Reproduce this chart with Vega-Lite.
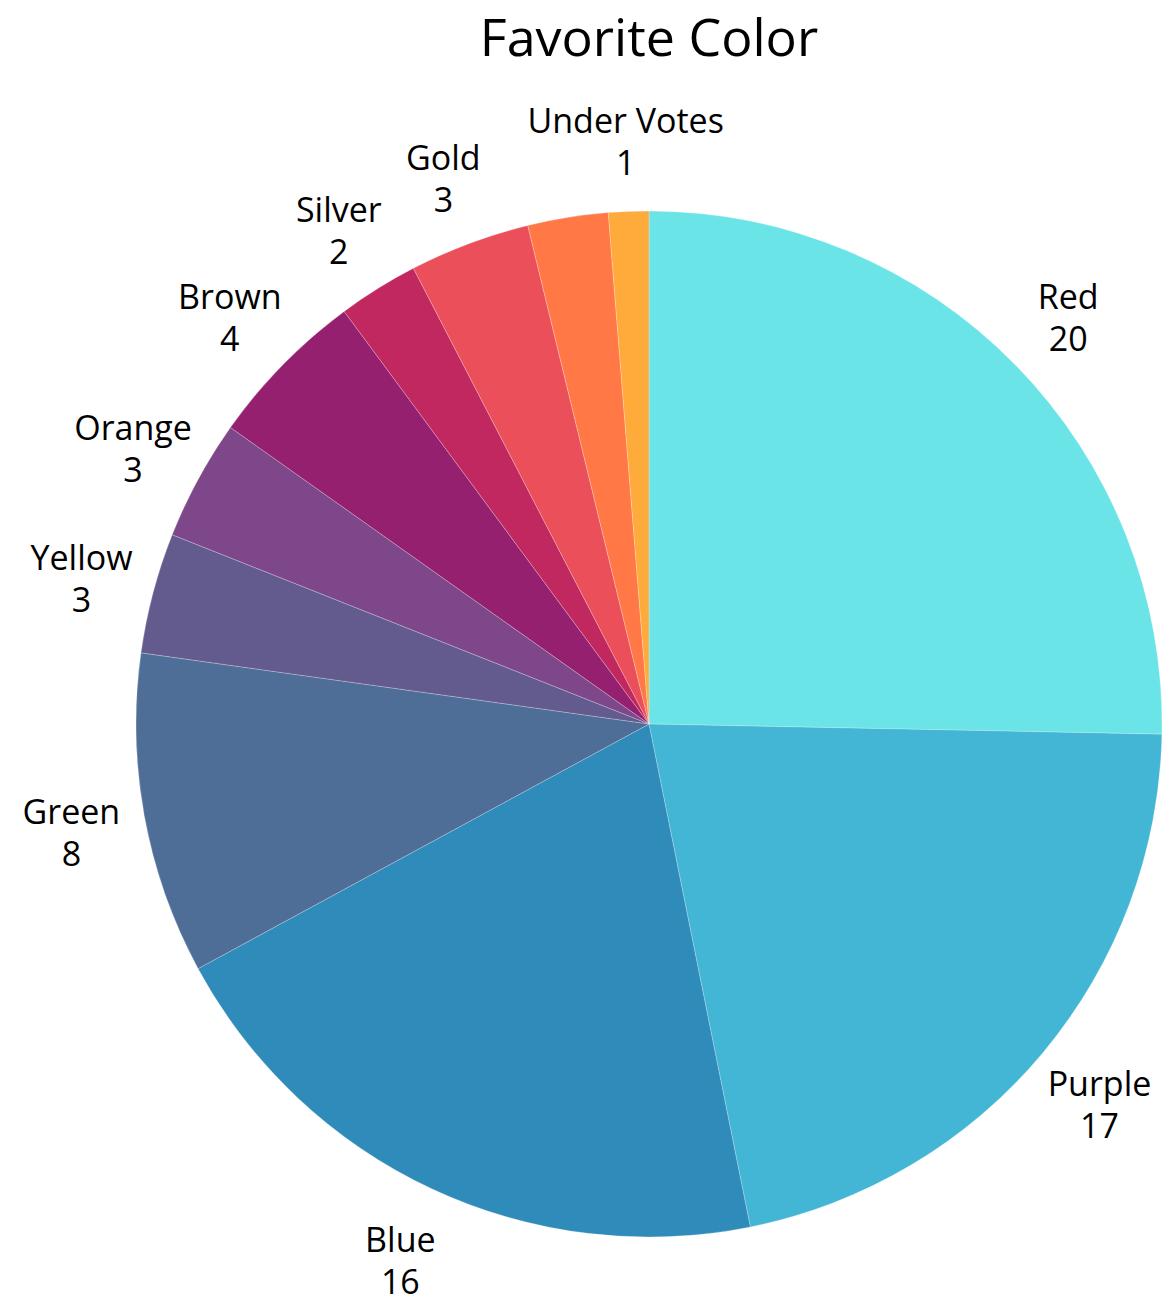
{
  "$schema": "https://vega.github.io/schema/vega-lite/v6.json",
  "width": 1044,
  "height": 1140,
  "autosize": {"type": "none"},
  "padding": {"left": 127, "top": 154, "right": 0, "bottom": 0},
  "background": "white",
  "title": {"text": "Favorite Color", "font": "Open Sans", "fontSize": 52, "fontWeight": "normal", "color": "#000000", "anchor": "middle", "frame": "group", "offset": 39},
  "data": {"values": [
    {"category": "Red", "votes": 20, "order": 1, "label": ["Red", "20"]},
    {"category": "Purple", "votes": 17, "order": 2, "label": ["Purple", "17"]},
    {"category": "Blue", "votes": 16, "order": 3, "label": ["Blue", "16"]},
    {"category": "Green", "votes": 8, "order": 4, "label": ["Green", "8"]},
    {"category": "Yellow", "votes": 3, "order": 5, "label": ["Yellow", "3"]},
    {"category": "Orange", "votes": 3, "order": 6, "label": ["Orange", "3"]},
    {"category": "Brown", "votes": 4, "order": 7, "label": ["Brown", "4"]},
    {"category": "Silver", "votes": 2, "order": 8, "label": ["Silver", "2"]},
    {"category": "Gold", "votes": 3, "order": 9, "label": ["Gold", "3"]},
    {"category": "Other", "votes": 2, "order": 10, "label": [""]},
    {"category": "Under Votes", "votes": 1, "order": 11, "label": ["Under Votes", "1"]}
  ]},
  "encoding": {
    "theta": {"field": "votes", "type": "quantitative", "stack": true},
    "order": {"field": "order", "type": "quantitative"}
  },
  "layer": [
    {
      "mark": {"type": "arc", "outerRadius": 513, "stroke": "#ffffff", "strokeWidth": 0.4, "strokeOpacity": 0.6},
      "encoding": {
        "color": {"field": "category", "type": "nominal", "legend": null,
          "scale": {
            "domain": ["Red", "Purple", "Blue", "Green", "Yellow", "Orange", "Brown", "Silver", "Gold", "Other", "Under Votes"],
            "range": ["#6be4e8", "#42b6d4", "#2e8bba", "#4e6e97", "#635b8e", "#7e4789", "#94206f", "#c1285f", "#ea4f5a", "#ff7845", "#ffab3b"]
          }
        }
      }
    },
    {
      "mark": {"type": "text", "radius": 587, "dy": -14, "font": "Open Sans", "fontSize": 34, "color": "#000000", "align": "center", "baseline": "middle", "lineHeight": 42},
      "encoding": {
        "text": {"field": "label"}
      }
    }
  ]
}
